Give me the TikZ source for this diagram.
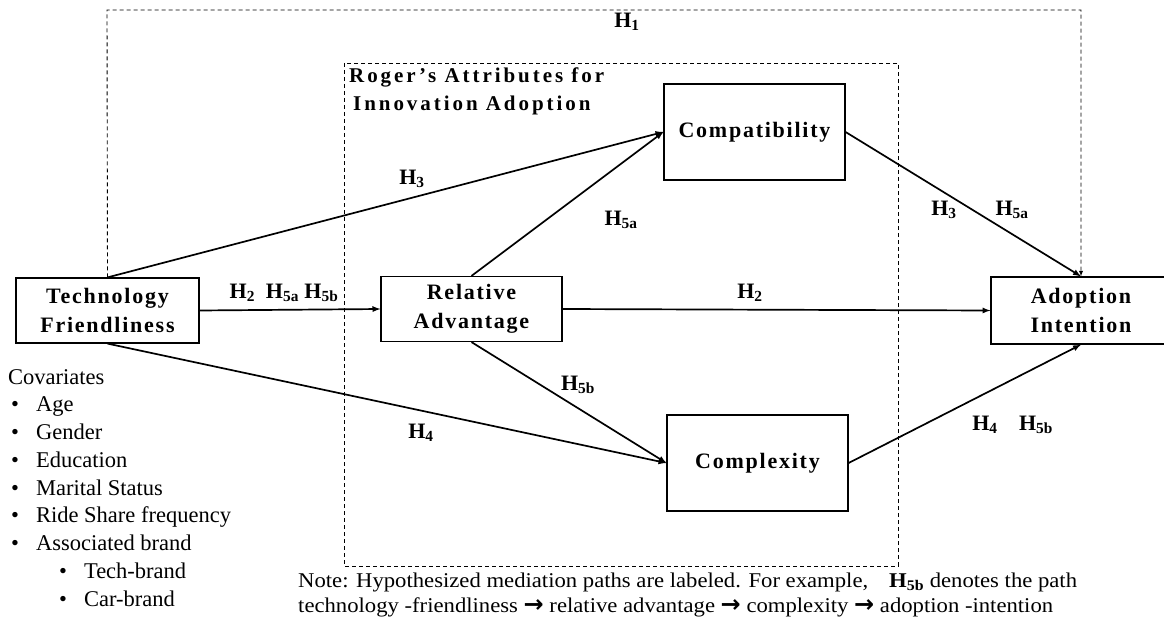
\documentclass[tikz,border=0pt]{standalone}
\usepackage{fontspec}
\setmainfont{Liberation Serif}
\newfontfamily\boxfont[LetterSpace=8]{Liberation Serif}
\newfontfamily\rogerfont[LetterSpace=14]{Liberation Serif}
\newfontfamily\notefont[FakeStretch=1.08]{Liberation Serif}
\newfontfamily\arrowfont{DejaVu Sans}
\usetikzlibrary{arrows}
\tikzset{
  >=latex,
  {construct/.style} ={draw, line width=1.2pt, rectangle, fill=white, align=center,
                       font=\fontsize{22}{29}\selectfont\boxfont\bfseries},
  {path arrow/.style} ={->, line width=1.7pt},
  {frame/.style} ={draw, dashed, line width=0.9pt, dash pattern=on 4pt off 3pt},
  {hlabel/.style} ={font=\fontsize{22}{24}\selectfont, inner sep=0},
  {plain text/.style} ={font=\fontsize{22.5}{28}\selectfont, inner sep=0, anchor=base west},
}
\newcommand{\hy}[1]{\textbf{H}\textsubscript{\textbf{#1}}}
\newcommand{\thento}{{\arrowfont\bfseries\fontsize{24}{20}\selectfont →}}
\begin{document}
\begin{tikzpicture}[x=1pt,y=-1pt]
\useasboundingbox (0,0) rectangle (1164,623);

% dashed frame for the attributes
\draw[frame] (344,63) rectangle (898,566);
\node[anchor=north west, align=left, inner sep=0,
      font=\fontsize{21}{28}\selectfont\rogerfont\bfseries] (roger) at (349,68)
      {Roger’s Attributes for\\ \hspace{4pt}Innovation Adoption};

% constructs
\node[construct, minimum width=183pt, minimum height=65pt] (tech) at (107.5,310.5) {Technology\\Friendliness};
\node[construct, minimum width=181pt, minimum height=65pt] (rel) at (471.5,309) {Relative\\Advantage};
\node[construct, minimum width=181pt, minimum height=96pt] (comp) at (754.5,132) {Compatibility};
\node[construct, minimum width=181pt, minimum height=96pt] (cplx) at (757.5,463) {Complexity};
\node[construct, minimum width=180pt, minimum height=67pt] (adopt) at (1081,310.5) {Adoption\\Intention};

% direct path H1
\coordinate (t1) at (107,10);
\coordinate (t2) at (1081,10);
\draw[frame,->] (tech.north) -- (t1) -- (t2) -- (adopt.north);
\node[hlabel] (h1) at (627,22) {\hy{1}};

% paths
\draw[path arrow] (tech.north) -- (comp.west);
\draw[path arrow] (tech.east) -- (rel.west);
\draw[path arrow] (tech.south) -- (cplx.west);
\draw[path arrow] (rel.north) -- (comp.west);
\draw[path arrow] (rel.east) -- (adopt.west);
\draw[path arrow] (rel.south) -- (cplx.west);
\draw[path arrow] (comp.east) -- (adopt.north);
\draw[path arrow] (cplx.east) -- (adopt.south);

% path labels
\node[hlabel] (lh3a) at (412,179) {\hy{3}};
\node[hlabel] (lh2a) at (284,293) {\hy{2}\enspace\hy{5a} \hy{5b}};
\node[hlabel] (lh5a) at (621,220) {\hy{5a}};
\node[hlabel] (lh2b) at (750,293) {\hy{2}};
\node[hlabel] (lh5b) at (578,385) {\hy{5b}};
\node[hlabel] (lh4a) at (421,433) {\hy{4}};
\node[hlabel] (lh3b) at (944,210) {\hy{3}};
\node[hlabel] (lh5c) at (1012,210) {\hy{5a}};
\node[hlabel] (lh4b) at (985,425) {\hy{4}};
\node[hlabel] (lh5d) at (1036,425) {\hy{5b}};

% covariates
\node[plain text] (cov) at (8,384) {Covariates};
\foreach \item [count=\i] in {Age,Gender,Education,Marital Status,Ride Share frequency,Associated brand}
  \node[plain text] (cov\i) at (11,384+27.75*\i) {\textbullet\hspace{17pt}\item};
\foreach \item [count=\i] in {Tech-brand,Car-brand}
  \node[plain text] (sub\i) at (59,550.5+27.75*\i) {\textbullet\hspace{17pt}\item};

% note
\node[anchor=base west, align=left, inner sep=0, font=\fontsize{21}{25}\selectfont\notefont] (note) at (298,612)
  {Note: Hypothesized mediation paths are labeled. For example,\quad \hy{5b} denotes the path\\
   technology -friendliness \thento{} relative advantage \thento{} complexity \thento{} adoption -intention};
\end{tikzpicture}
\end{document}
